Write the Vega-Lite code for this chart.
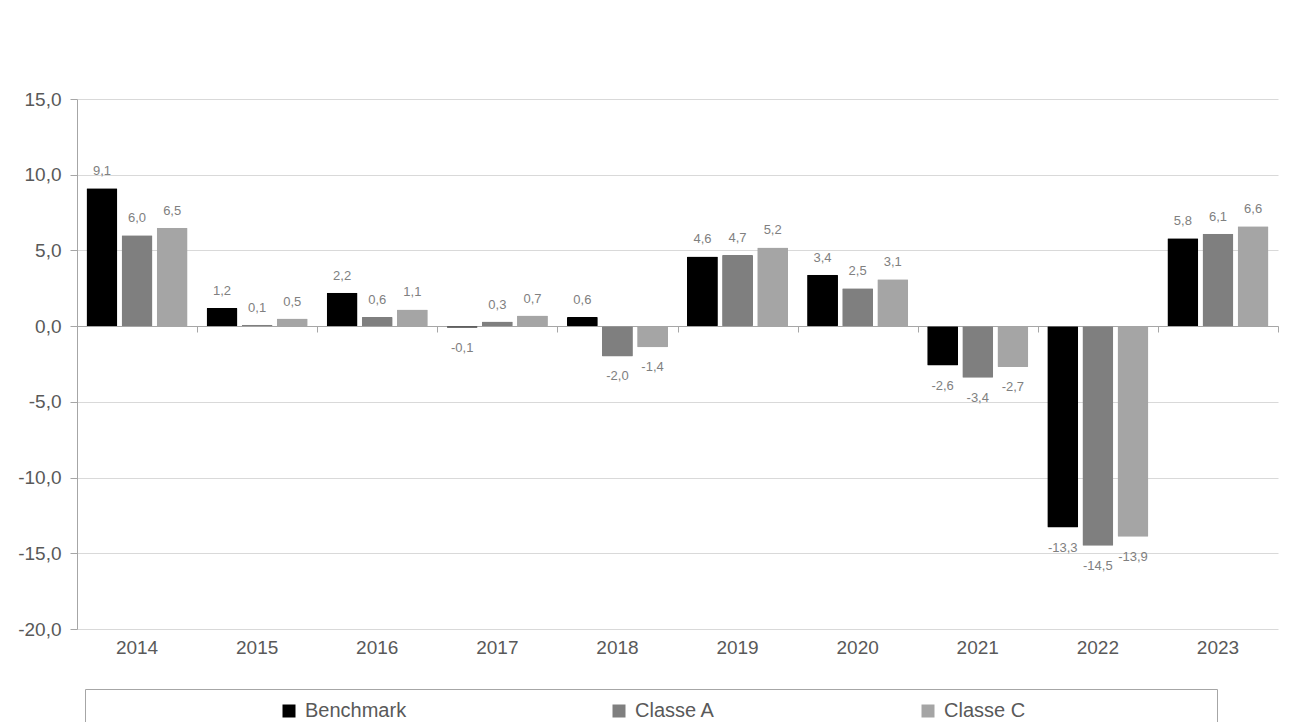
{
  "$schema": "https://vega.github.io/schema/vega-lite/v6.json",
  "width": 1201,
  "height": 530,
  "autosize": {"type": "none"},
  "padding": {"left": 77, "top": 99, "right": 27, "bottom": 93},
  "background": "white",
  "config": {
    "font": "Liberation Sans",
    "view": {"stroke": null},
    "locale": {"number": {"decimal": ",", "thousands": ".", "grouping": [3], "currency": ["", " €"], "minus": "-"}}
  },
  "data": {
    "values": [
      {"year": "2014", "series": "Benchmark", "value": 9.1},
      {"year": "2014", "series": "Classe A", "value": 6.0},
      {"year": "2014", "series": "Classe C", "value": 6.5},
      {"year": "2015", "series": "Benchmark", "value": 1.2},
      {"year": "2015", "series": "Classe A", "value": 0.1},
      {"year": "2015", "series": "Classe C", "value": 0.5},
      {"year": "2016", "series": "Benchmark", "value": 2.2},
      {"year": "2016", "series": "Classe A", "value": 0.6},
      {"year": "2016", "series": "Classe C", "value": 1.1},
      {"year": "2017", "series": "Benchmark", "value": -0.1},
      {"year": "2017", "series": "Classe A", "value": 0.3},
      {"year": "2017", "series": "Classe C", "value": 0.7},
      {"year": "2018", "series": "Benchmark", "value": 0.6},
      {"year": "2018", "series": "Classe A", "value": -2.0},
      {"year": "2018", "series": "Classe C", "value": -1.4},
      {"year": "2019", "series": "Benchmark", "value": 4.6},
      {"year": "2019", "series": "Classe A", "value": 4.7},
      {"year": "2019", "series": "Classe C", "value": 5.2},
      {"year": "2020", "series": "Benchmark", "value": 3.4},
      {"year": "2020", "series": "Classe A", "value": 2.5},
      {"year": "2020", "series": "Classe C", "value": 3.1},
      {"year": "2021", "series": "Benchmark", "value": -2.6},
      {"year": "2021", "series": "Classe A", "value": -3.4},
      {"year": "2021", "series": "Classe C", "value": -2.7},
      {"year": "2022", "series": "Benchmark", "value": -13.3},
      {"year": "2022", "series": "Classe A", "value": -14.5},
      {"year": "2022", "series": "Classe C", "value": -13.9},
      {"year": "2023", "series": "Benchmark", "value": 5.8},
      {"year": "2023", "series": "Classe A", "value": 6.1},
      {"year": "2023", "series": "Classe C", "value": 6.6}
    ]
  },
  "encoding": {
    "xOffset": {"field": "series", "type": "nominal", "sort": ["Benchmark", "Classe A", "Classe C"], "scale": {"paddingInner": 0.12, "paddingOuter": 0.27}},
    "y": {"field": "value", "type": "quantitative", "scale": {"domain": [-20, 15], "nice": false, "zero": false}}
  },
  "layer": [
    {
      "mark": {"type": "bar", "cornerRadius": 1},
      "encoding": {
        "x": {"field": "year", "type": "nominal", "scale": {"paddingInner": 0, "paddingOuter": 0},
          "axis": {"title": null, "labelAngle": 0, "domain": false, "ticks": false, "grid": false, "labelFontSize": 19, "labelPadding": 9, "labelColor": "#595959"}},
        "y": {"field": "value", "type": "quantitative", "scale": {"domain": [-20, 15], "nice": false, "zero": false},
          "axis": {"title": null, "values": [-20, -15, -10, -5, 0, 5, 10, 15], "format": ".1f", "grid": true, "gridColor": "#d9d9d9", "domainColor": "#a6a6a6", "tickColor": "#a6a6a6", "tickSize": 7, "labelFontSize": 19, "labelPadding": 9, "labelColor": "#595959"}},
        "color": {"field": "series", "type": "nominal",
          "scale": {"domain": ["Benchmark", "Classe A", "Classe C"], "range": ["#000000", "#7f7f7f", "#a5a5a5"]},
          "legend": {
            "orient": "none", "legendX": 8, "legendY": 590, "direction": "horizontal",
            "title": "\u2800\u2800\u2800\u2800\u2800\u2800\u2800\u2800\u2800\u2800\u2800\u2800",
            "titleOrient": "right", "titleFontSize": 20, "titleLimit": 1000, "titlePadding": 0,
            "symbolType": "square", "symbolSize": 169, "symbolOffset": 182, "labelOffset": 6, "symbolStrokeWidth": 0,
            "labelFontSize": 20, "labelColor": "#595959", "labelLimit": 300, "columnPadding": 20,
            "padding": 12, "strokeColor": "#a6a6a6", "fillColor": "white"
          }}
      }
    },
    {
      "transform": [{"filter": "datum.value >= 0"}],
      "mark": {"type": "text", "dy": -17, "fontSize": 13, "color": "#808080", "baseline": "middle"},
      "encoding": {
        "x": {"field": "year", "type": "nominal", "scale": {"paddingInner": 0, "paddingOuter": 0},
          "axis": {"title": null, "labels": false, "grid": false, "orient": "top", "offset": -227, "domainColor": "#a6a6a6", "tickColor": "#a6a6a6", "tickBand": "extent", "tickSize": -6}},
        "text": {"field": "value", "type": "quantitative", "format": ".1f"}
      }
    },
    {
      "transform": [{"filter": "datum.value < 0"}],
      "mark": {"type": "text", "dy": 20, "fontSize": 13, "color": "#808080", "baseline": "middle"},
      "encoding": {
        "x": {"field": "year", "type": "nominal", "scale": {"paddingInner": 0, "paddingOuter": 0}, "axis": null},
        "text": {"field": "value", "type": "quantitative", "format": ".1f"}
      }
    }
  ],
  "resolve": {"axis": {"x": "independent"}}
}
